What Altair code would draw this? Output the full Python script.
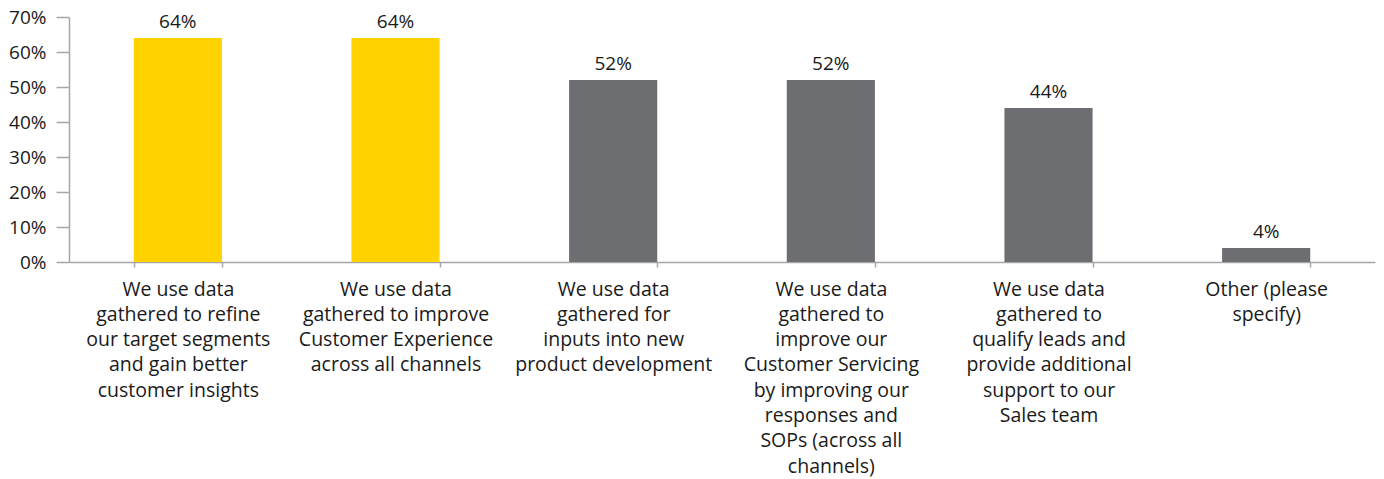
import altair as alt
import pandas as pd

categories = [
    "We use data|gathered to refine|our target segments|and gain better|customer insights",
    "We use data|gathered to improve|Customer Experience|across all channels",
    "We use data|gathered for|inputs into new|product development",
    "We use data|gathered to|improve our|Customer Servicing|by improving our|responses and|SOPs (across all|channels)",
    "We use data|gathered to|qualify leads and|provide additional|support to our|Sales team",
    "Other (please|specify)",
]
values = [0.64, 0.64, 0.52, 0.52, 0.44, 0.04]
highlight = ["yes", "yes", "no", "no", "no", "no"]

df = pd.DataFrame({"cat": categories, "val": values, "hl": highlight})

FONT = "Open Sans"
AX = "#a6a6a6"

base = alt.Chart(df).encode(
    x=alt.X(
        "cat:N",
        sort=categories,
        title=None,
        scale=alt.Scale(paddingInner=0.595, paddingOuter=0.2975),
        axis=alt.Axis(
            labelAngle=0,
            labelExpr="split(datum.label, '|')",
            labelFont=FONT,
            labelFontSize=19.5,
            labelColor="#1a1a1a",
            labelLineHeight=25.3,
            labelPadding=13,
            labelLimit=400,
            labelBaseline="top",
            tickBand="extent",
            tickSize=5,
            tickColor=AX,
            domainColor=AX,
            tickWidth=1.5,
            domainWidth=1.5,
        ),
    ),
    y=alt.Y(
        "val:Q",
        title=None,
        scale=alt.Scale(domain=[0, 0.7], nice=False),
        axis=alt.Axis(
            values=[0, 0.1, 0.2, 0.3, 0.4, 0.5, 0.6, 0.7],
            format=".0%",
            grid=False,
            labelFont=FONT,
            labelFontSize=19,
            labelColor="#1a1a1a",
            labelPadding=10,
            tickSize=13,
            tickColor=AX,
            domainColor=AX,
            tickWidth=1.5,
            domainWidth=1.5,
        ),
    ),
)

bars = base.mark_bar().encode(
    color=alt.Color(
        "hl:N",
        scale=alt.Scale(domain=["yes", "no"], range=["#FFD200", "#6D6E71"]),
        legend=None,
    )
)

labels = base.mark_text(dy=-6, baseline="bottom", font=FONT, fontSize=19, color="#1a1a1a").encode(
    text=alt.Text("val:Q", format=".0%")
)

chart = (
    (bars + labels)
    .properties(
        width=1306,
        height=245,
        autosize=alt.AutoSizeParams(type="none"),
        padding={"left": 61, "top": 9, "right": 1, "bottom": 216},
    )
    .configure_view(stroke=None)
)

chart.save("out.html", embed_options={"renderer": "svg", "actions": False})
